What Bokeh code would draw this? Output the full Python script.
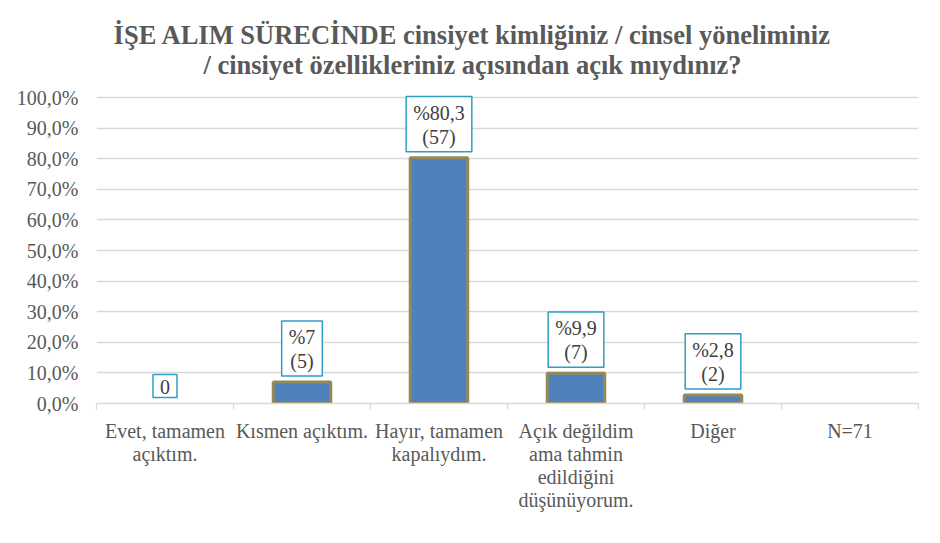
from bokeh.plotting import figure
from bokeh.models import Range1d, FixedTicker, CustomJSTickFormatter, Label, LinearAxis
from bokeh.core.properties import value
from bokeh.embed import file_html
from bokeh.resources import INLINE

# ---- data ----
categories = ["Evet, tamamen açıktım.", "Kısmen açıktım.", "Hayır, tamamen kapalıydım.",
              "Açık değildim ama tahmin edildiğini düşünüyorum.", "Diğer", "N=71"]
category_labels = ["Evet, tamamen\naçıktım.", "Kısmen açıktım.", "Hayır, tamamen\nkapalıydım.",
                   "Açık değildim\nama tahmin\nedildiğini\ndüşünüyorum.", "Diğer", "N=71"]
percents = [0.0, 7.0, 80.3, 9.9, 2.8]
counts = [0, 5, 57, 7, 2]
title_lines = ["İŞE ALIM SÜRECİNDE cinsiyet kimliğiniz / cinsel yöneliminiz",
               "/ cinsiyet özellikleriniz açısından açık mıydınız?"]
y_ticks = [0, 10, 20, 30, 40, 50, 60, 70, 80, 90, 100]

FONT = "Liberation Serif"
AXIS_COL = "#595959"

W, H = 940, 543
LEFT, RIGHT, BOTTOM = 96, 22, 140
FRAME_H = H - BOTTOM
PX_PER_UNIT = 306 / 100.0
Y_TOP = FRAME_H / PX_PER_UNIT

positions = [i + 0.5 for i in range(len(categories))]

label_rows = [lab.split("\n") for lab in category_labels]
n_rows = max(len(r) for r in label_rows)


def fmt(p, c):
    if c == 0:
        return "0"
    s = ("%g" % p).replace(".", ",")
    return "%" + s + "\n(" + str(c) + ")"


bar_labels = [fmt(p, c) for p, c in zip(percents, counts)]
bar_x = positions[:len(percents)]
shown = [i for i, v in enumerate(percents) if v > 0]

p = figure(width=W, height=H, output_backend="svg", toolbar_location=None,
           x_range=Range1d(0, len(categories)), y_range=Range1d(0, Y_TOP),
           min_border_left=LEFT, min_border_right=RIGHT, min_border_top=0, min_border_bottom=BOTTOM)
p.outline_line_color = None
p.background_fill_color = "white"
p.border_fill_color = "white"

p.xgrid.grid_line_color = None
p.ygrid.grid_line_color = "#D9D9D9"
p.ygrid.grid_line_width = 1.3

# y axis
p.yaxis.ticker = FixedTicker(ticks=y_ticks)
p.yaxis.formatter = CustomJSTickFormatter(code="return tick.toFixed(1).replace('.', ',') + '%';")
p.yaxis.axis_line_color = None
p.yaxis.major_tick_line_color = None
p.yaxis.minor_tick_line_color = None
p.yaxis.major_label_standoff = 12
p.yaxis.major_label_text_font = FONT
p.yaxis.major_label_text_font_size = "20px"
p.yaxis.major_label_text_color = AXIS_COL


def row_overrides(k):
    return {pos: (r[k] if k < len(r) else "") for pos, r in zip(positions, label_rows)}


# main x axis: boundary ticks + first label row
xa = p.xaxis[0]
xa.ticker = FixedTicker(ticks=positions, minor_ticks=list(range(len(categories) + 1)))
xa.major_label_overrides = row_overrides(0)
xa.axis_line_color = "#D9D9D9"
xa.axis_line_width = 1.3
xa.major_tick_line_color = None
xa.minor_tick_line_color = "#D9D9D9"
xa.minor_tick_line_width = 1.3
xa.minor_tick_out = 6
xa.minor_tick_in = 0
xa.major_label_standoff = 10
xa.major_label_text_font = FONT
xa.major_label_text_font_size = "20px"
xa.major_label_text_color = AXIS_COL

# further label rows as extra label-only axes stacked below
for k in range(1, n_rows):
    ax = LinearAxis(ticker=FixedTicker(ticks=positions), major_label_overrides=row_overrides(k),
                    axis_line_color=None, major_tick_line_color=None, minor_tick_line_color=None,
                    major_tick_out=0, major_tick_in=0, major_label_standoff=-2,
                    major_label_text_font=FONT, major_label_text_font_size="20px",
                    major_label_text_color=AXIS_COL)
    p.add_layout(ax, "below")

# bars
p.vbar(x=[bar_x[i] for i in shown], top=[percents[i] for i in shown], bottom=0, width=0.42,
       fill_color="#4F81BD", line_color="#948A54", line_width=3)

# data labels
p.text(x=bar_x, y=percents, text=bar_labels,
       text_align="center", text_baseline="bottom", y_offset=-6,
       text_font=value(FONT), text_font_size="20px", text_color="#404040",
       text_line_height=1.1,
       background_fill_color="white", border_line_color="#2E9DC4", border_line_width=1.5,
       padding=dict(left=7, right=7, top=5, bottom=4))

# title
for i, line in enumerate(title_lines):
    p.add_layout(Label(x=472 - LEFT, y=FRAME_H - 34 - 30 * i, x_units="screen", y_units="screen",
                       text=line, text_align="center", text_baseline="middle",
                       text_font=FONT, text_font_style="bold", text_font_size="26.5px",
                       text_color=AXIS_COL))

open("out.html", "w").write(file_html(p, INLINE))
